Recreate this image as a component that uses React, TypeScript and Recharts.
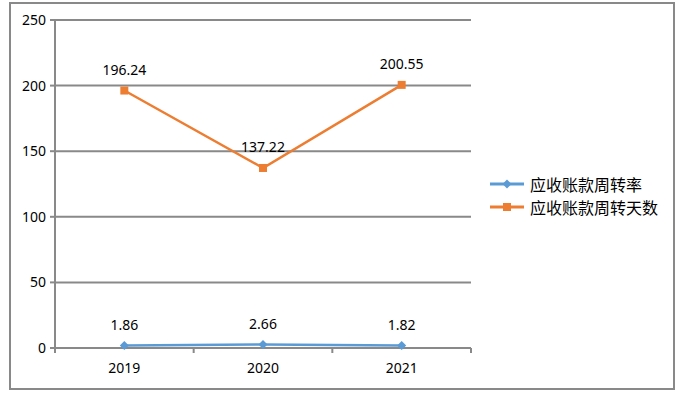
import React from "react";
import {
  CartesianGrid,
  LabelList,
  Legend,
  Line,
  LineChart,
  XAxis,
  YAxis,
} from "recharts";

const years = ["2019", "2020", "2021"];
const turnoverRate = [1.86, 2.66, 1.82];
const turnoverDays = [196.24, 137.22, 200.55];
const yTicks = [0, 50, 100, 150, 200, 250];

const RATE_NAME = "应收账款周转率";
const DAYS_NAME = "应收账款周转天数";

const data = years.map((year, i) => ({
  year,
  rate: turnoverRate[i],
  days: turnoverDays[i],
}));

const BLUE = "#5B9BD5";
const ORANGE = "#ED7D31";
const AXIS_GRAY = "#898989";
const FONT = "'Noto Sans', 'Noto Sans CJK SC', sans-serif";

const WIDTH = 690;
const HEIGHT = 398;
const MARGIN = { top: 20, right: 219, bottom: 20, left: 10 };
const Y_AXIS_WIDTH = 45;
const X_AXIS_HEIGHT = 30;
const PLOT_LEFT = MARGIN.left + Y_AXIS_WIDTH;
const PLOT_RIGHT = WIDTH - MARGIN.right;
const PLOT_BOTTOM = HEIGHT - MARGIN.bottom - X_AXIS_HEIGHT;
const BAND = (PLOT_RIGHT - PLOT_LEFT) / years.length;

const Diamond = (props: any) => {
  const { cx, cy } = props;
  if (cx == null || cy == null) return null;
  const r = 4.5;
  return (
    <polygon
      points={`${cx},${cy - r} ${cx + r},${cy} ${cx},${cy + r} ${cx - r},${cy}`}
      fill={BLUE}
    />
  );
};

const Square = (props: any) => {
  const { cx, cy } = props;
  if (cx == null || cy == null) return null;
  const s = 8;
  return <rect x={cx - s / 2} y={cy - s / 2} width={s} height={s} fill={ORANGE} />;
};

const XTick = (props: any) => {
  const { x, payload, index } = props;
  const half = BAND / 2;
  return (
    <g>
      <line x1={x - half} x2={x - half} y1={PLOT_BOTTOM} y2={PLOT_BOTTOM + 5} stroke={AXIS_GRAY} strokeWidth={2} />
      {index === years.length - 1 && (
        <line x1={x + half} x2={x + half} y1={PLOT_BOTTOM} y2={PLOT_BOTTOM + 5} stroke={AXIS_GRAY} strokeWidth={2} />
      )}
      <text x={x} y={PLOT_BOTTOM + 25} textAnchor="middle" fontSize={14} fontFamily={FONT} fill="#000">
        {payload.value}
      </text>
    </g>
  );
};

const LegendContent = () => {
  const items = [
    { name: RATE_NAME, color: BLUE, shape: "diamond" },
    { name: DAYS_NAME, color: ORANGE, shape: "square" },
  ];
  return (
    <div style={{ fontFamily: FONT, fontSize: 16, color: "#000" }}>
      {items.map((it) => (
        <div key={it.name} style={{ display: "flex", alignItems: "center", height: 23 }}>
          <svg width={38} height={14} style={{ marginRight: 2 }}>
            <line x1={0} x2={34} y1={7} y2={7} stroke={it.color} strokeWidth={3} />
            {it.shape === "diamond" ? (
              <polygon points="17,2.5 21.5,7 17,11.5 12.5,7" fill={it.color} />
            ) : (
              <rect x={13} y={3} width={8} height={8} fill={it.color} />
            )}
          </svg>
          <span>{it.name}</span>
        </div>
      ))}
    </div>
  );
};

export default function App() {
  return (
    <div style={{ position: "absolute", left: 0, top: 0, width: WIDTH, height: HEIGHT, background: "#fff" }}>
      <div
        style={{
          position: "absolute",
          left: 9,
          top: 2,
          width: 666,
          height: 388,
          boxSizing: "border-box",
          border: `2px solid ${AXIS_GRAY}`,
        }}
      />
      <div style={{ position: "absolute", left: 0, top: 0 }}>
        <LineChart width={WIDTH} height={HEIGHT} data={data} margin={MARGIN}>
          <CartesianGrid vertical={false} stroke={AXIS_GRAY} strokeWidth={2} />
          <XAxis
            dataKey="year"
            scale="band"
            height={X_AXIS_HEIGHT}
            axisLine={{ stroke: AXIS_GRAY, strokeWidth: 2 }}
            tickLine={false}
            tick={<XTick />}
            interval={0}
          />
          <YAxis
            width={Y_AXIS_WIDTH}
            domain={[0, 250]}
            ticks={yTicks}
            axisLine={{ stroke: AXIS_GRAY, strokeWidth: 2 }}
            tickLine={{ stroke: AXIS_GRAY, strokeWidth: 2 }}
            tickSize={5}
            tickMargin={4}
            tick={{ fontSize: 14, fontFamily: FONT, fill: "#000" }}
          />
          <Legend
            layout="horizontal"
            verticalAlign="middle"
            align="center"
            content={<LegendContent />}
            wrapperStyle={{ left: 490, top: 172, width: 190 }}
          />
          <Line
            dataKey="rate"
            name={RATE_NAME}
            stroke={BLUE}
            strokeWidth={2.5}
            dot={<Diamond />}
            activeDot={false}
            isAnimationActive={false}
          >
            <LabelList dataKey="rate" position="top" offset={16} fontSize={14} fontFamily={FONT} fill="#000" />
          </Line>
          <Line
            dataKey="days"
            name={DAYS_NAME}
            stroke={ORANGE}
            strokeWidth={2.5}
            dot={<Square />}
            activeDot={false}
            isAnimationActive={false}
          >
            <LabelList dataKey="days" position="top" offset={16} fontSize={14} fontFamily={FONT} fill="#000" />
          </Line>
        </LineChart>
      </div>
    </div>
  );
}
